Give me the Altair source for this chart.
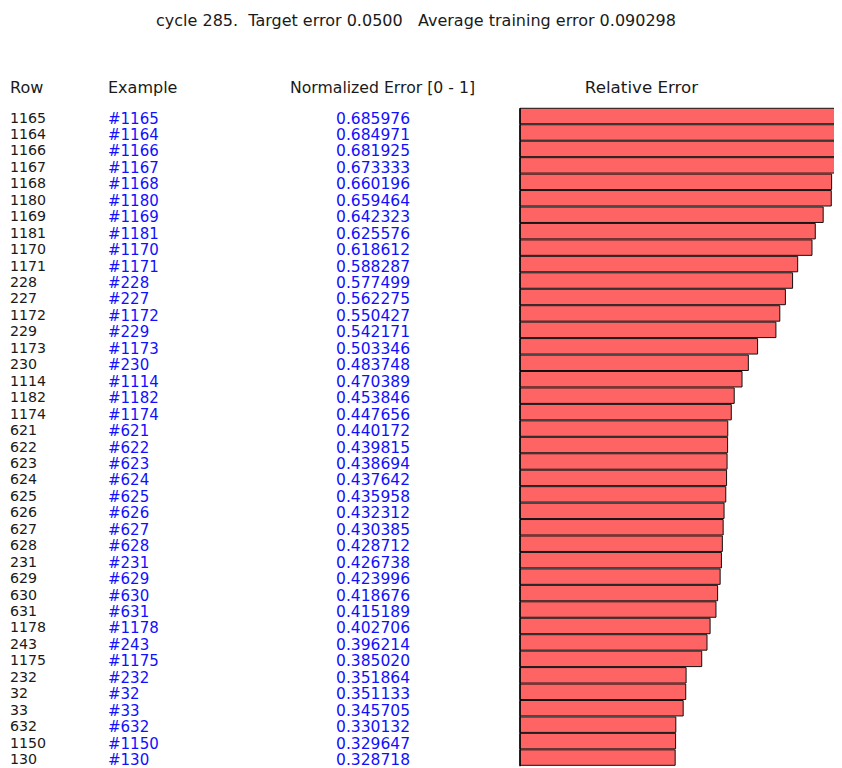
import altair as alt
import pandas as pd

rows = ["1165", "1164", "1166", "1167", "1168", "1180", "1169", "1181", "1170", "1171",
        "228", "227", "1172", "229", "1173", "230", "1114", "1182", "1174", "621",
        "622", "623", "624", "625", "626", "627", "628", "231", "629", "630",
        "631", "1178", "243", "1175", "232", "32", "33", "632", "1150", "130"]
errors = [0.685976, 0.684971, 0.681925, 0.673333, 0.660196, 0.659464, 0.642323, 0.625576, 0.618612, 0.588287,
          0.577499, 0.562275, 0.550427, 0.542171, 0.503346, 0.483748, 0.470389, 0.453846, 0.447656, 0.440172,
          0.439815, 0.438694, 0.437642, 0.435958, 0.432312, 0.430385, 0.428712, 0.426738, 0.423996, 0.418676,
          0.415189, 0.402706, 0.396214, 0.385020, 0.351864, 0.351133, 0.345705, 0.330132, 0.329647, 0.328718]
examples = ["#" + r for r in rows]
title_text = "cycle 285.\u00a0\u00a0Target error 0.0500\u00a0\u00a0\u00a0Average training error 0.090298"
headers = ["Row", "Example", "Normalized Error [0 - 1]", "Relative Error"]

df = pd.DataFrame({
    "row": rows,
    "example": examples,
    "error": errors,
    "label": [f"{e:.6f}" for e in errors],
})
df["i"] = range(len(df))
df["i2"] = df["i"] + 0.94
df["i3"] = df["i"] + 1.0
df["im"] = df["i"] + 0.5
df["zero"] = 0.0

one = pd.DataFrame({"k": [0]})

W, H = 826, 760
# zero at 512 px, 472 px per unit
xs = alt.Scale(domain=[-1.08475, 0.66525], nice=False, zero=False)
# row i top at 100.3 px, pitch 16.45 px
ys = alt.Scale(domain=[-6.097, 40.104], nice=False, zero=False, reverse=True)

FONT = "DejaVu Sans"
base = alt.Chart(df)

shadow = base.mark_bar(color="#9a9a9a", opacity=0.6, clip=True, xOffset=1.5, yOffset=1.5).encode(
    x=alt.X("zero:Q", scale=xs, axis=None),
    x2="error:Q",
    y=alt.Y("i:Q", scale=ys, axis=None),
    y2="i2:Q",
)

bars = base.mark_bar(color="#ff6464", stroke="#111111", strokeWidth=1, clip=True).encode(
    x=alt.X("zero:Q", scale=xs, axis=None),
    x2="error:Q",
    y=alt.Y("i:Q", scale=ys, axis=None),
    y2="i2:Q",
)

edge = base.mark_rule(color="#000000", strokeWidth=1.5).encode(
    x=alt.X("zero:Q", scale=xs, axis=None),
    y=alt.Y("i:Q", scale=ys, axis=None),
    y2="i3:Q",
)

row_txt = base.mark_text(align="left", baseline="middle", font=FONT, fontSize=14.2, color="#1a1a1a", dy=2).encode(
    x=alt.value(2), y=alt.Y("im:Q", scale=ys, axis=None), text="row:N"
)
ex_txt = base.mark_text(align="left", baseline="middle", font=FONT, fontSize=15, color="#1010ff", dy=2).encode(
    x=alt.value(100), y=alt.Y("im:Q", scale=ys, axis=None), text="example:N"
)
val_txt = base.mark_text(align="right", baseline="middle", font=FONT, fontSize=15.5, color="#1010ff", dy=2).encode(
    x=alt.value(402), y=alt.Y("im:Q", scale=ys, axis=None), text="label:N"
)

hdr_pos = [(2, "left"), (100, "left"), (374.5, "center"), (633.5, "center")]
hdr_size = [16, 16, 15.7, 16.7]
hdr_layers = [
    alt.Chart(one).mark_text(text=h, align=a, baseline="middle", font=FONT, fontSize=fs, color="#1a1a1a").encode(
        x=alt.value(px), y=alt.value(79.5)
    )
    for h, (px, a), fs in zip(headers, hdr_pos, hdr_size)
]
title_layer = alt.Chart(one).mark_text(text=title_text, align="center", baseline="middle",
                                       font=FONT, fontSize=16, color="#1a1a1a").encode(
    x=alt.value(408), y=alt.value(12.5)
)

chart = alt.layer(shadow, bars, edge, row_txt, ex_txt, val_txt, *hdr_layers, title_layer).properties(
    width=W, height=H, padding=0, autosize=alt.AutoSizeParams(type="none"),
    background="white"
).configure_view(stroke=None)

chart.save("out.html", embed_options={"renderer": "svg", "actions": False})
